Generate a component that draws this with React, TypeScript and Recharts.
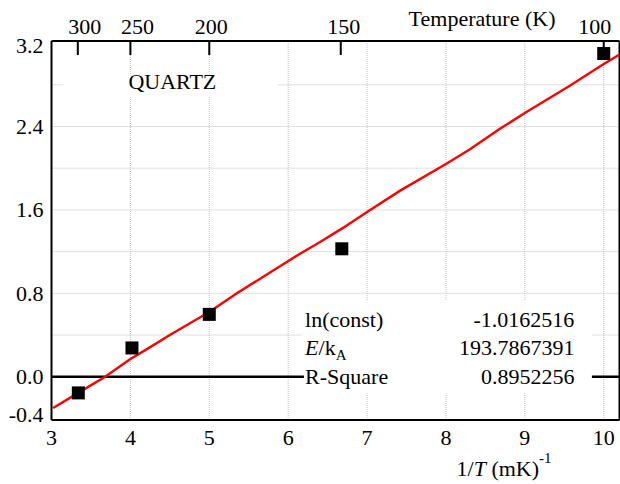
import React from 'react';
import {
  ComposedChart,
  Scatter,
  Line,
  XAxis,
  YAxis,
  CartesianGrid,
  ReferenceLine,
  ReferenceArea,
} from 'recharts';

const FONT =
  "'Liberation Serif', Tinos, 'Times New Roman', 'Nimbus Roman', 'Nimbus Roman No9 L', 'TeX Gyre Termes', FreeSerif, 'Noto Serif', 'DejaVu Serif', serif";

// measured points (1/T in mK^-1, ln value)
const measX = [3.34, 4.02, 5.0, 6.68, 10.0];
const measY = [-0.155, 0.276, 0.598, 1.227, 3.1];

// fitted curve
const fitX = [3.02, 3.35, 3.68, 4.0, 4.2, 4.5, 5.0, 5.35, 5.77, 6.15, 6.4, 6.7, 7.0, 7.42, 8.0, 8.3, 8.68, 9.0, 9.57, 10.0, 10.2];
const fitY = [-0.3, -0.15, 0.0, 0.17, 0.26, 0.4, 0.62, 0.8, 1.0, 1.18, 1.29, 1.43, 1.58, 1.785, 2.04, 2.18, 2.375, 2.53, 2.79, 3.0, 3.09];

// axis ticks
const xTicks = [3, 4, 5, 6, 7, 8, 9, 10];
const yTicks = [-0.4, 0.0, 0.8, 1.6, 2.4, 3.2];
const gridX = [4, 5, 6, 7, 8, 9, 10];
const gridY = [0.4, 0.8, 1.2, 1.6, 2.0, 2.4, 2.8];
const tempLabels = [300, 250, 200, 150, 100];
const topTicks = tempLabels.map((t) => 1000 / t);

// fit statistics
const statValues = ['-1.0162516', '193.7867391', '0.8952256'];

const X_DOMAIN: [number, number] = [3, 10.2];
const Y_DOMAIN: [number, number] = [-0.415, 3.22];

const measData = measX.map((x, i) => ({ x, y: measY[i] }));
const fitData = fitX.map((x, i) => ({ x, y: fitY[i] }));

// small visual nudges for the top labels (as in the original)
const topLabelShift: Record<number, number> = { 300: 7, 250: 7, 200: 2, 150: 3, 100: -9 };

const BottomTick = (p: any) => (
  <text x={p.x} y={p.y + 25} textAnchor="middle" style={{ fontFamily: FONT, fontSize: 22 }} fill="#000">
    {p.payload.value}
  </text>
);

const LeftTick = (p: any) => {
  const v = p.payload.value;
  const shift = v >= 3.19 ? 2 : v <= -0.39 ? -3.5 : 0;
  return (
    <text x={p.x - 8} y={p.y + 7.5 + shift} textAnchor="end" style={{ fontFamily: FONT, fontSize: 22 }} fill="#000">
      {Number(v).toFixed(1)}
    </text>
  );
};

const TopTick = (p: any) => {
  const t = Math.round(1000 / p.payload.value);
  return (
    <g>
      <line x1={p.x} x2={p.x} y1={p.y} y2={p.y + 14} stroke="#000" strokeWidth={2} />
      <text
        x={p.x + (topLabelShift[t] || 0)}
        y={p.y - 7.5}
        textAnchor="middle"
        style={{ fontFamily: FONT, fontSize: 22 }}
        fill="#000"
      >
        {t}
      </text>
    </g>
  );
};

const TopTitle = (props: any) => {
  const vb = props.viewBox || { x: 51.5, y: 0, width: 568, height: 41 };
  return (
    <text
      x={vb.x + vb.width - 64}
      y={25.5}
      textAnchor="end"
      style={{ fontFamily: FONT, fontSize: 22 }}
      fill="#000"
    >
      Temperature (K)
    </text>
  );
};

const BottomTitle = (props: any) => {
  const vb = props.viewBox || { x: 51.5, y: 420, width: 568, height: 64 };
  return (
    <text x={vb.x + 405} y={vb.y + 56} style={{ fontFamily: FONT, fontSize: 22 }} fill="#000">
      <tspan>1/</tspan>
      <tspan fontStyle="italic">T</tspan>
      <tspan> (mK)</tspan>
      <tspan style={{ fontSize: 15 }} dy={-13}>-1</tspan>
    </text>
  );
};

const QuartzLabel = (props: any) => {
  const vb = props.viewBox;
  if (!vb) return null;
  return (
    <text
      x={vb.x + 109}
      y={vb.y + 14}
      textAnchor="middle"
      style={{ fontFamily: FONT, fontSize: 22 }}
      fill="#000"
    >
      QUARTZ
    </text>
  );
};

const StatsLabel = (props: any) => {
  const vb = props.viewBox;
  if (!vb) return null;
  const left = vb.x + 3.5;
  const right = vb.x + vb.width - 17.5;
  const base = [vb.y + 26.3, vb.y + 54.8, vb.y + 83.3];
  return (
    <g style={{ fontFamily: FONT, fontSize: 22 }} fill="#000">
      <text x={left} y={base[0]}>ln(const)</text>
      <text x={left} y={base[1]}>
        <tspan fontStyle="italic">E</tspan>
        <tspan>/k</tspan>
        <tspan style={{ fontSize: 15 }} dy={5}>A</tspan>
      </text>
      <text x={left} y={base[2]}>R-Square</text>
      {statValues.map((v, i) => (
        <text key={i} x={right} y={base[i]} textAnchor="end">
          {v}
        </text>
      ))}
    </g>
  );
};

const SquareDot = (p: any) => (
  <rect x={p.cx - 6.5} y={p.cy - 6.5} width={13} height={13} fill="#000" />
);

export default function App() {
  return (
    <div style={{ width: 620, height: 484, fontFamily: FONT }}>
      <style>{'body{margin:0}'}</style>
      <ComposedChart
        width={620}
        height={484}
        margin={{ top: 0, right: 0.5, bottom: 0, left: 0 }}
        style={{ background: '#fff' }}
      >
        <CartesianGrid
          stroke="#c2c2c2"
          strokeDasharray="1 1"
          horizontalValues={gridY}
          verticalValues={gridX}
        />
        <XAxis
          dataKey="x"
          type="number"
          domain={X_DOMAIN}
          allowDataOverflow
          ticks={xTicks}
          height={64}
          tickSize={0}
          tickMargin={0}
          tickLine={false}
          tick={<BottomTick />}
          axisLine={{ stroke: '#000', strokeWidth: 2 }}
          label={{ content: BottomTitle }}
        />
        <XAxis
          xAxisId="top"
          dataKey="x"
          orientation="top"
          type="number"
          domain={X_DOMAIN}
          allowDataOverflow
          ticks={topTicks}
          interval={0}
          height={41}
          tickSize={0}
          tickMargin={0}
          tickLine={false}
          tick={<TopTick />}
          axisLine={{ stroke: '#000', strokeWidth: 2 }}
          label={{ content: TopTitle }}
        />
        <YAxis
          type="number"
          domain={Y_DOMAIN}
          allowDataOverflow
          ticks={yTicks}
          width={51.5}
          tickSize={0}
          tickMargin={0}
          tickLine={false}
          tick={<LeftTick />}
          axisLine={{ stroke: '#000', strokeWidth: 2 }}
        />
        <ReferenceArea
          x1={3.15}
          x2={5.87}
          y1={2.68}
          y2={2.89}
          fill="#fff"
          fillOpacity={1}
          stroke="none"
          label={QuartzLabel}
        />
        <ReferenceArea
          x1={6.17}
          x2={9.85}
          y1={-0.16}
          y2={0.73}
          fill="#fff"
          fillOpacity={1}
          stroke="none"
          label={StatsLabel}
        />
        <ReferenceLine
          segment={[
            { x: 3, y: 0 },
            { x: 6.2, y: 0 },
          ]}
          stroke="#000"
          strokeWidth={2.5}
        />
        <ReferenceLine
          segment={[
            { x: 9.85, y: 0 },
            { x: 10.2, y: 0 },
          ]}
          stroke="#000"
          strokeWidth={2.5}
        />
        <ReferenceLine x={10.2} stroke="#000" strokeWidth={2} />
        <Line
          data={fitData}
          dataKey="y"
          type="linear"
          stroke="#ff0000"
          strokeWidth={2.4}
          dot={false}
          activeDot={false}
          isAnimationActive={false}
        />
        <Scatter
          xAxisId="top"
          data={measData}
          dataKey="y"
          shape={<SquareDot />}
          isAnimationActive={false}
        />
      </ComposedChart>
    </div>
  );
}
